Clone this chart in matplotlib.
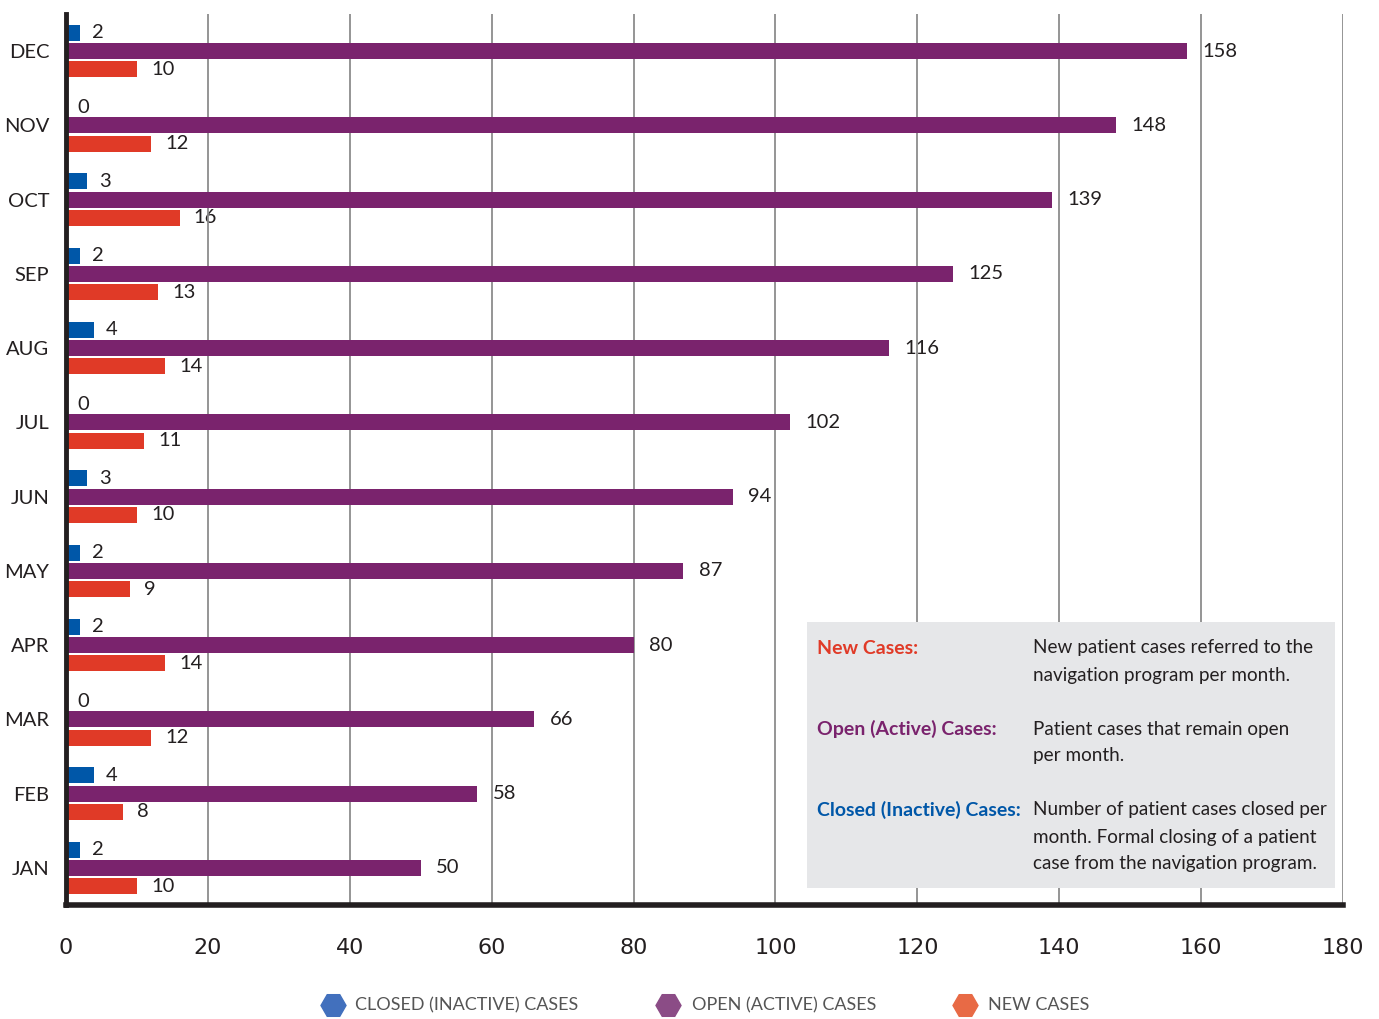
import matplotlib
matplotlib.use("Agg")
import matplotlib.pyplot as plt
from matplotlib.patches import Rectangle
from matplotlib.lines import Line2D
import numpy as np

plt.rcParams['font.family'] = ['Lato', 'DejaVu Sans']

months = ["JAN", "FEB", "MAR", "APR", "MAY", "JUN",
          "JUL", "AUG", "SEP", "OCT", "NOV", "DEC"]
closed_cases = [2, 4, 0, 2, 2, 3, 0, 4, 2, 3, 0, 2]
open_cases = [50, 58, 66, 80, 87, 94, 102, 116, 125, 139, 148, 158]
new_cases = [10, 8, 12, 14, 9, 10, 11, 14, 13, 16, 12, 10]
x_ticks = [0, 20, 40, 60, 80, 100, 120, 140, 160, 180]

C_CLOSED = "#0057a8"
C_OPEN = "#7a236d"
C_NEW = "#e03a27"
TXT = "#231f20"

W, H = 1379, 1019
fig = plt.figure(figsize=(W / 100, H / 100), dpi=100)
ax = fig.add_axes([66 / W, 1 - 905 / H, (1343 - 66) / W, (905 - 14) / H])

y = np.arange(len(months))
bh = 0.215
off = 0.245

ax.barh(y + off, closed_cases, height=bh, color=C_CLOSED, zorder=3)
ax.barh(y, open_cases, height=bh, color=C_OPEN, zorder=3)
ax.barh(y - off, new_cases, height=bh, color=C_NEW, zorder=3)

lab_kw = dict(va="center", ha="left", fontsize=14.5, color=TXT, zorder=1)
for i in range(len(months)):
    ax.text(closed_cases[i] + 1.6, y[i] + off, str(closed_cases[i]), **lab_kw)
    ax.text(open_cases[i] + 2.2, y[i], str(open_cases[i]), **lab_kw)
    ax.text(new_cases[i] + 2.0, y[i] - off, str(new_cases[i]), **lab_kw)

ax.set_xlim(0, 180)
ax.set_ylim(-0.5, 11.5)
for xv in x_ticks[1:]:
    ax.axvline(xv, color="#8c8c8c", lw=1.3, zorder=2)

ax.set_xticks(x_ticks)
ax.set_xticklabels([str(v) for v in x_ticks], family="DejaVu Sans",
                   fontsize=16, color=TXT)
ax.set_yticks(y)
ax.set_yticklabels(months, fontsize=14.5, color=TXT)
ax.tick_params(axis="x", length=0, pad=24)
ax.tick_params(axis="y", length=0, pad=12)

for s in ["top", "right"]:
    ax.spines[s].set_visible(False)
ax.spines["left"].set_linewidth(3.5)
ax.spines["left"].set_color(TXT)
ax.spines["bottom"].set_linewidth(4)
ax.spines["bottom"].set_color(TXT)
ax.spines["left"].set_zorder(5)
ax.spines["bottom"].set_zorder(5)

# Definitions panel
box = Rectangle((807 / W, 1 - 888 / H), (1335 - 807) / W, (888 - 622) / H,
                transform=fig.transFigure, facecolor="#e6e7e9",
                edgecolor="none", zorder=4)
fig.add_artist(box)

def fy(py):
    return 1 - py / H

defs = [
    ("New Cases:", C_NEW, ["New patient cases referred to the",
                           "navigation program per month."], 648),
    ("Open (Active) Cases:", C_OPEN, ["Patient cases that remain open",
                                      "per month."], 729),
    ("Closed (Inactive) Cases:", C_CLOSED, ["Number of patient cases closed per",
                                            "month. Formal closing of a patient",
                                            "case from the navigation program."], 810),
]
for title, col, lines, py in defs:
    fig.text(817 / W, fy(py), title, color=col, fontsize=14,
             fontweight="bold", va="center", ha="left", zorder=6)
    for k, ln in enumerate(lines):
        fig.text(1033 / W, fy(py + 27 * k), ln, color=TXT, fontsize=13.6,
                 va="center", ha="left", zorder=6)

# Legend row
legend_items = [("CLOSED (INACTIVE) CASES", "#4270bd", 333, 355),
                ("OPEN (ACTIVE) CASES", "#8b4c86", 668, 692),
                ("NEW CASES", "#e86a45", 965, 988)]
for label, col, mx, tx in legend_items:
    fig.add_artist(Line2D([mx / W], [fy(1005)], marker="H", markersize=18,
                          color=col, linestyle="none",
                          transform=fig.transFigure))
    fig.text(tx / W, fy(1005), label, color="#555555", fontsize=13,
             va="center", ha="left")

fig.savefig("out.png", dpi=100)
